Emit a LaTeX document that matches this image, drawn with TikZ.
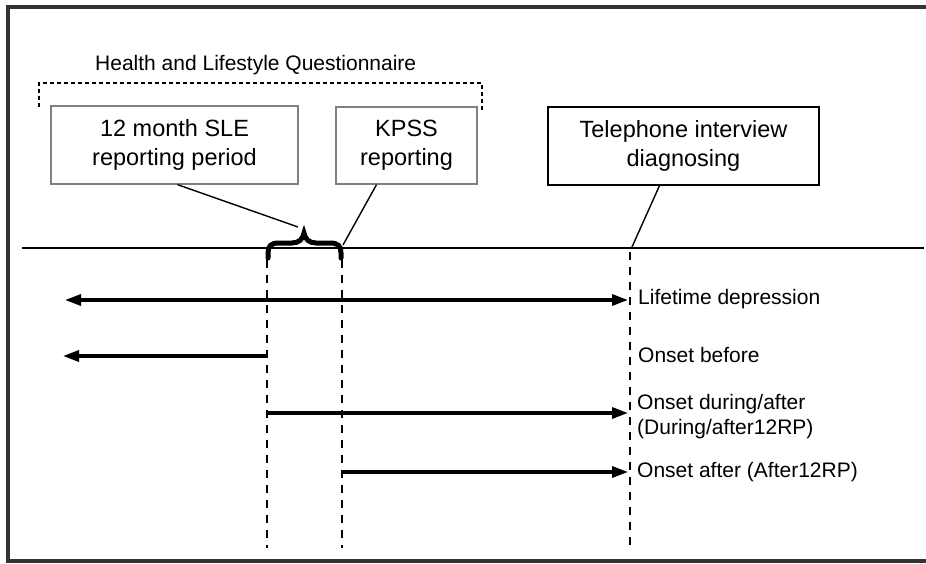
\documentclass[tikz,border=0pt]{standalone}
\usepackage{fontspec}
\setmainfont{Liberation Sans}
\usetikzlibrary{arrows.meta,calc}
\begin{document}
\begin{tikzpicture}[x=1pt,y=-1pt,
  frameline/.style={draw=black!80,line width=3.2pt},
  box/.style={draw=black!50,line width=1.3pt,align=center,inner sep=0pt,
    font=\fontsize{23.5}{29}\selectfont},
  darkbox/.style={box,draw=black},
  label/.style={anchor=west,inner sep=0pt,align=left,font=\fontsize{21}{25}\selectfont},
  pointer/.style={draw=black,line width=1.4pt},
  dashline/.style={draw=black,line width=2.4pt,dash pattern=on 8pt off 7pt},
  period/.style={draw=black,line width=3.2pt,-{Triangle[length=16pt,width=11pt]}},
  periodboth/.style={period,{Triangle[length=16pt,width=11pt]}-{Triangle[length=16pt,width=11pt]}}
]
\useasboundingbox (0,0) rectangle (926,564);
% frame
\draw[frameline] (926,7) -- (8,7) -- (8,561) -- (926,561);

% heading and dashed bracket
\node[label] (hlq) at (95,65) {Health and Lifestyle Questionnaire};
\coordinate (qa) at (39,107);
\coordinate (qb) at (39,83);
\coordinate (qc) at (482,83);
\coordinate (qd) at (482,110);
\draw[black,line width=1.5pt,dash pattern=on 4pt off 3pt] (qa) -- (qb) -- (qc) -- (qd);

% boxes
\node[box,minimum width=247pt,minimum height=78pt] (sle) at (174.5,145) {12 month SLE\\reporting period};
\node[box,minimum width=141pt,minimum height=77pt] (kpss) at (406.5,145.5) {KPSS\\reporting};
\node[darkbox,minimum width=271pt,minimum height=78pt] (tel) at (683.5,146) {Telephone interview\\diagnosing};

% timeline
\coordinate (tlL) at (22,248);
\coordinate (tlR) at (924,248);
\draw[black,line width=1.8pt] (tlL) -- (tlR);

% brace
\draw[black,line width=5pt,line cap=round]
  (268,258) -- (268,253) .. controls (268,246) and (271,243) .. (279,243)
  -- (292,243) .. controls (299,243) and (303,239) .. (304,233)
  .. controls (305,239) and (309,243) .. (316,243)
  -- (330,243) .. controls (338,243) and (341,246) .. (341,253) -- (341,258);

% pointers
\coordinate (sletip) at (298,227);
\coordinate (kpsstip) at (343,245);
\coordinate (teltip) at (632,247);
\draw[pointer] ([xshift=3pt]sle.south) -- (sletip);
\draw[pointer] ([xshift=-30pt]kpss.south) -- (kpsstip);
\draw[pointer] ([xshift=-24pt]tel.south) -- (teltip);

% vertical dashed lines
\coordinate (d1t) at (267,260); \coordinate (d1b) at (267,548);
\coordinate (d2t) at (342,260); \coordinate (d2b) at (342,548);
\coordinate (d3t) at (630,252); \coordinate (d3b) at (630,548);
\draw[dashline] (d1t) -- (d1b);
\draw[dashline] (d2t) -- (d2b);
\draw[dashline] (d3t) -- (d3b);

% labels
\node[label] (lt) at (638,299) {Lifetime depression};
\node[label] (ob) at (638,355) {Onset before};
\node[label] (od) at (637,417) {Onset during/after\\(During/after12RP)};
\node[label] (oa) at (637,472) {Onset after (After12RP)};

% period arrows
\coordinate (a1l) at (65,300); \coordinate (a1r) at (628,300);
\coordinate (a2s) at (267,356); \coordinate (a2e) at (63,356);
\coordinate (a3s) at (268,413); \coordinate (a3e) at (628,413);
\coordinate (a4s) at (343,472); \coordinate (a4e) at (628,472);
\draw[periodboth] (a1l) -- (a1r);
\draw[period] (a2s) -- (a2e);
\draw[period] (a3s) -- (a3e);
\draw[period] (a4s) -- (a4e);
\end{tikzpicture}
\end{document}
